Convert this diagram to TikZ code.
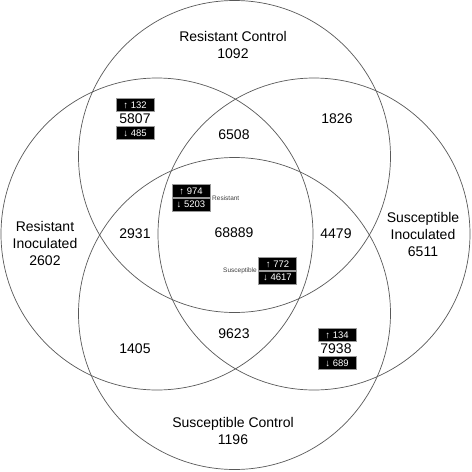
\documentclass[tikz,border=0pt]{standalone}
\usepackage{fontspec}
\setmainfont{Liberation Sans}
\begin{document}
\begin{tikzpicture}[x=1pt,y=-1pt,
  ring/.style={draw=black!65, line width=0.7pt},
  lab/.style={font=\fontsize{14}{17}\selectfont, align=center, inner sep=0pt},
  num/.style={font=\fontsize{14}{17}\selectfont, inner sep=0pt},
  tag/.style={fill=black, draw=black!40, line width=0.5pt, text=white, minimum width=38pt, minimum height=13pt, inner sep=0pt, font=\fontsize{9.5}{10}\selectfont},
  small/.style={font=\fontsize{6.5}{7}\selectfont, text=black!75, inner sep=0pt}]
\useasboundingbox[fill=white] (0,0) rectangle (472,472);
\draw[ring] (234.5,156.5) circle[radius=156];
\draw[ring] (157,234) circle[radius=156];
\draw[ring] (314,234) circle[radius=156];
\draw[ring] (234.5,313.5) circle[radius=156];
\node[lab] (rc) at (233,44.5) {Resistant Control\\1092};
\node[lab] (ri) at (45,243) {Resistant\\Inoculated\\2602};
\node[lab] (si) at (423,234) {Susceptible\\Inoculated\\6511};
\node[lab] (sc) at (233,430.5) {Susceptible Control\\1196};
\node[num] (n5807) at (135,119) {5807};
\node[tag] (u132) at (135,105) {↑ 132};
\node[tag] (d485) at (135,133) {↓ 485};
\node[num] (n6508) at (234,135) {6508};
\node[num] (n1826) at (337,119) {1826};
\node[num] (n2931) at (135,234) {2931};
\node[num] (n68889) at (234,233) {68889};
\node[num] (n4479) at (336,234) {4479};
\node[num] (n1405) at (135,349) {1405};
\node[num] (n9623) at (234,334) {9623};
\node[num] (n7938) at (336,349) {7938};
\node[tag] (u134) at (337,335) {↑ 134};
\node[tag] (d689) at (337,363) {↓ 689};
\node[tag] (u974) at (191,191) {↑ 974};
\node[tag] (d5203) at (191,204.5) {↓ 5203};
\node[small, anchor=west] (res) at (212,198) {Resistant};
\node[tag] (u772) at (277.5,264) {↑ 772};
\node[tag] (d4617) at (277.5,277.5) {↓ 4617};
\node[small, anchor=east] (sus) at (257,271) {Susceptible};
\end{tikzpicture}
\end{document}
